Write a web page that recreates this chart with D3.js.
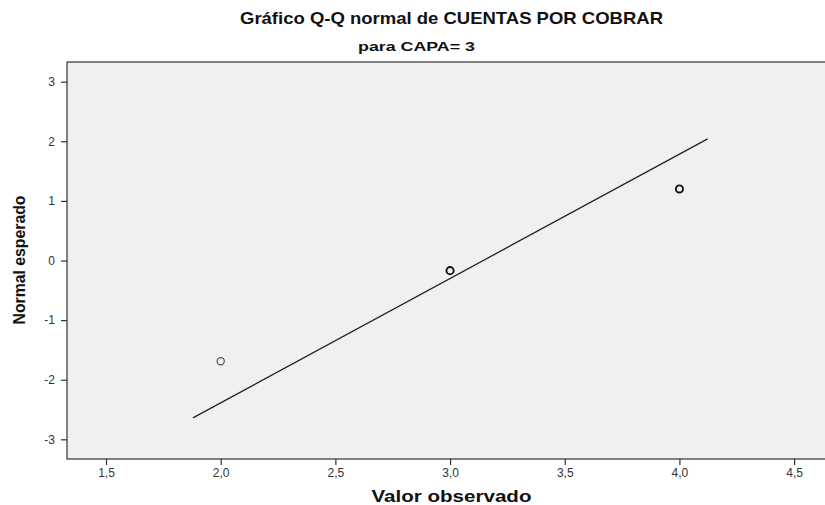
<!DOCTYPE html>
<html>
<head>
<meta charset="utf-8">
<script src="https://cdn.jsdelivr.net/npm/d3@7"></script>
<style>
  body { margin: 0; background: #fff; }
  text { font-family: "Liberation Sans", Arial, sans-serif; }
</style>
</head>
<body>
<svg id="chart"></svg>
<script>
// Data
const observed = [2.0, 3.0, 4.0];
const expected = [-1.69, -0.17, 1.20];
const pointWeight = [1, 2, 2];
const lineX = [1.879, 4.123];
const lineY = [-2.64, 2.04];
const xTicks = [1.5, 2.0, 2.5, 3.0, 3.5, 4.0, 4.5];
const yTicks = [-3, -2, -1, 0, 1, 2, 3];

// Layout
const width = 825, height = 505;
const margin = { top: 62, right: -1, bottom: 46, left: 67 };
const svg = d3.select("#chart").attr("width", width).attr("height", height);

const x = d3.scaleLinear()
  .domain([1.33, 4.639])
  .range([margin.left, width - margin.right]);
const y = d3.scaleLinear()
  .domain([-3.33, 3.33])
  .range([height - margin.bottom, margin.top]);

// Plot area
svg.append("rect")
  .attr("x", margin.left)
  .attr("y", margin.top)
  .attr("width", width - margin.right - margin.left)
  .attr("height", height - margin.bottom - margin.top)
  .attr("fill", "#f0f0f0")
  .attr("stroke", "#333")
  .attr("stroke-width", 1.2);

// Axes
const fmt = d3.format(".1f");
const xAxis = svg.append("g")
  .attr("transform", `translate(0,${height - margin.bottom})`)
  .call(d3.axisBottom(x).tickValues(xTicks).tickSize(6).tickSizeOuter(0)
    .tickFormat(d => fmt(d).replace(".", ",")));
const yAxis = svg.append("g")
  .attr("transform", `translate(${margin.left},0)`)
  .call(d3.axisLeft(y).tickValues(yTicks).tickSize(6).tickSizeOuter(0)
    .tickFormat(d => d < 0 ? "-" + Math.abs(d) : d));

[xAxis, yAxis].forEach(g => {
  g.select(".domain").remove();
  g.selectAll(".tick line").attr("stroke", "#333").attr("stroke-width", 1.2);
  g.selectAll(".tick text")
    .attr("fill", "#333")
    .style("font-size", "12px");
});
xAxis.selectAll(".tick text").attr("y", 9).attr("dy", "0.71em");
yAxis.selectAll(".tick text").attr("x", -12);

// Fit line
svg.append("line")
  .attr("x1", x(lineX[0])).attr("y1", y(lineY[0]))
  .attr("x2", x(lineX[1])).attr("y2", y(lineY[1]))
  .attr("stroke", "#222")
  .attr("stroke-width", 1.3);

// Points
svg.selectAll("circle.pt")
  .data(observed)
  .join("circle")
  .attr("class", "pt")
  .attr("cx", d => x(d))
  .attr("cy", (d, i) => y(expected[i]))
  .attr("r", 3.6)
  .attr("fill", "none")
  .attr("stroke", (d, i) => pointWeight[i] > 1 ? "#111" : "#555")
  .attr("stroke-width", (d, i) => pointWeight[i] > 1 ? 1.9 : 1.2);

// Titles (the source picture is stretched sideways, so widths are fixed)
function label(txt, tx, ty, size, len, rotate) {
  return svg.append("text")
    .attr("transform", `translate(${tx},${ty})` + (rotate ? " rotate(-90)" : ""))
    .attr("text-anchor", "middle")
    .attr("textLength", len)
    .attr("lengthAdjust", "spacingAndGlyphs")
    .style("font-size", size + "px")
    .style("font-weight", "bold")
    .attr("fill", "#111")
    .text(txt);
}

label("Gráfico Q-Q normal de CUENTAS POR COBRAR", 451.5, 24, 17, 423);
label("para CAPA= 3", 416.5, 51, 13, 117);
label("Valor observado", 451.5, 502, 16, 160);
label("Normal esperado", 25, 260, 16, 129, true);
</script>
</body>
</html>
